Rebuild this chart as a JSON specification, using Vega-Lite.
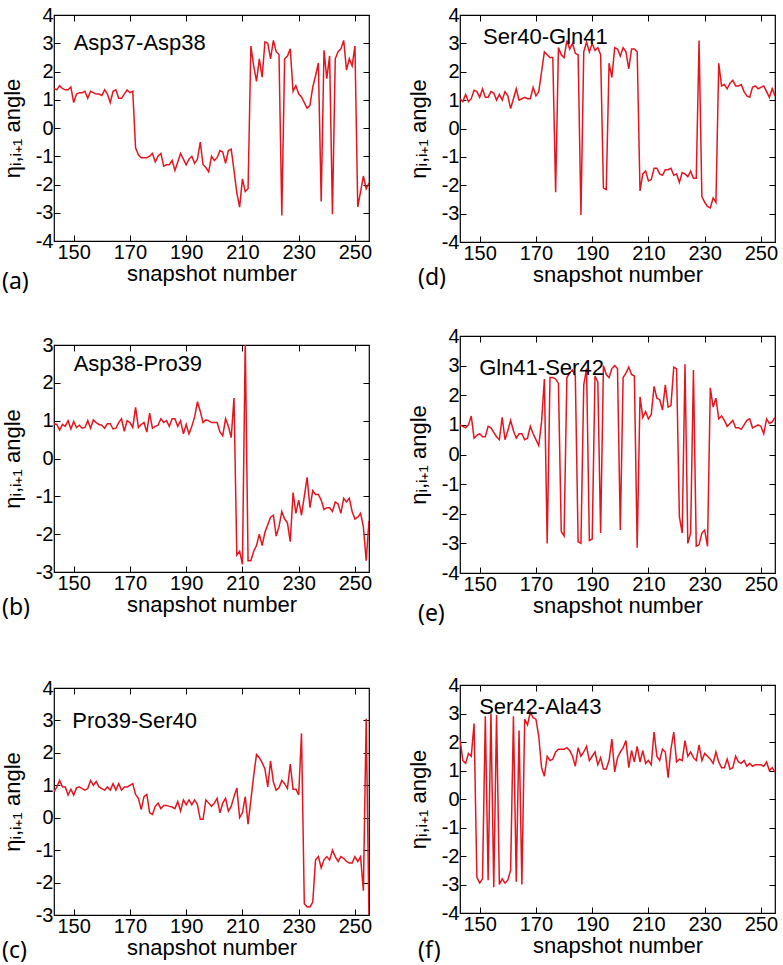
{
"$schema":"https://vega.github.io/schema/vega-lite/v6.json",
"padding":{"left":0,"top":4,"right":5,"bottom":2},
"config":{
 "locale":{"number":{"decimal":".","thousands":",","grouping":[3],"currency":["$",""],"minus":"-"}},
 "view":{"stroke":"black","strokeWidth":1.2},
 "line":{"color":"#e3161f","strokeWidth":1.5},
 "text":{"font":"Liberation Sans","fontSize":22,"align":"left","baseline":"middle","color":"black"},
 "title":{"orient":"bottom","anchor":"start","frame":"group","fontSize":23,"font":"Noto Sans","fontWeight":"normal","color":"black"},
 "axis":{"grid":false,"domain":false,"tickSize":-6,"tickColor":"black","labelColor":"black","labelFont":"Liberation Sans","labelFontSize":20,"titleFont":"Liberation Sans","titleFontSize":22,"titleFontWeight":"normal","titleColor":"black","labelPadding":7},
 "axisX":{"titlePadding":1},
 "axisY":{"titlePadding":11}
},
"datasets":{
"a":[{"s":143,"v":1.4},{"s":144,"v":1.35},{"s":145,"v":1.5},{"s":146,"v":1.4},{"s":147,"v":1.35},{"s":148,"v":1.35},{"s":149,"v":1.45},{"s":150,"v":0.9},{"s":151,"v":1.2},{"s":152,"v":1.25},{"s":153,"v":1.25},{"s":154,"v":1.3},{"s":155,"v":1.05},{"s":156,"v":1.3},{"s":157,"v":1.25},{"s":158,"v":1.2},{"s":159,"v":1.2},{"s":160,"v":1.15},{"s":161,"v":1.35},{"s":162,"v":1.2},{"s":163,"v":0.9},{"s":164,"v":1.3},{"s":165,"v":1.35},{"s":166,"v":1.05},{"s":167,"v":1.05},{"s":168,"v":1.2},{"s":169,"v":1.35},{"s":170,"v":1.25},{"s":171,"v":1.3},{"s":172,"v":-0.7},{"s":173,"v":-0.95},{"s":174,"v":-1.05},{"s":175,"v":-1.05},{"s":176,"v":-1.05},{"s":177,"v":-1.0},{"s":178,"v":-0.9},{"s":179,"v":-1.2},{"s":180,"v":-1.0},{"s":181,"v":-0.9},{"s":182,"v":-1.35},{"s":183,"v":-1.3},{"s":184,"v":-1.3},{"s":185,"v":-1.15},{"s":186,"v":-1.5},{"s":187,"v":-1.2},{"s":188,"v":-0.9},{"s":189,"v":-1.1},{"s":190,"v":-1.3},{"s":191,"v":-1.1},{"s":192,"v":-1.0},{"s":193,"v":-1.25},{"s":194,"v":-1.1},{"s":195,"v":-0.5},{"s":196,"v":-1.3},{"s":197,"v":-1.4},{"s":198,"v":-1.55},{"s":199,"v":-1.0},{"s":200,"v":-1.15},{"s":201,"v":-1.05},{"s":202,"v":-0.8},{"s":203,"v":-0.85},{"s":204,"v":-1.25},{"s":205,"v":-0.8},{"s":206,"v":-0.75},{"s":207,"v":-1.5},{"s":208,"v":-2.3},{"s":209,"v":-2.8},{"s":210,"v":-1.8},{"s":211,"v":-2.25},{"s":212,"v":-2.15},{"s":213,"v":2.9},{"s":214,"v":2.2},{"s":215,"v":1.65},{"s":216,"v":2.45},{"s":217,"v":1.8},{"s":218,"v":3.05},{"s":219,"v":3.0},{"s":220,"v":2.45},{"s":221,"v":3.1},{"s":222,"v":2.7},{"s":223,"v":2.6},{"s":224,"v":-3.1},{"s":225,"v":2.45},{"s":226,"v":2.55},{"s":227,"v":2.8},{"s":228,"v":1.3},{"s":229,"v":1.5},{"s":230,"v":1.2},{"s":231,"v":1.1},{"s":232,"v":0.9},{"s":233,"v":0.7},{"s":234,"v":0.8},{"s":235,"v":1.45},{"s":236,"v":1.85},{"s":237,"v":2.3},{"s":238,"v":-2.6},{"s":239,"v":2.75},{"s":240,"v":1.75},{"s":241,"v":2.55},{"s":242,"v":-3.05},{"s":243,"v":2.45},{"s":244,"v":2.7},{"s":245,"v":2.8},{"s":246,"v":3.1},{"s":247,"v":2.05},{"s":248,"v":2.45},{"s":249,"v":2.2},{"s":250,"v":2.9},{"s":251,"v":-2.8},{"s":252,"v":-2.25},{"s":253,"v":-1.7},{"s":254,"v":-2.15},{"s":255,"v":-1.95}],
"b":[{"s":143,"v":0.92},{"s":144,"v":0.9},{"s":145,"v":0.75},{"s":146,"v":0.9},{"s":147,"v":0.85},{"s":148,"v":1.0},{"s":149,"v":0.78},{"s":150,"v":0.98},{"s":151,"v":0.82},{"s":152,"v":0.88},{"s":153,"v":0.8},{"s":154,"v":0.82},{"s":155,"v":1.0},{"s":156,"v":0.8},{"s":157,"v":1.02},{"s":158,"v":0.95},{"s":159,"v":0.9},{"s":160,"v":0.88},{"s":161,"v":0.8},{"s":162,"v":0.92},{"s":163,"v":0.92},{"s":164,"v":0.78},{"s":165,"v":0.8},{"s":166,"v":0.95},{"s":167,"v":1.05},{"s":168,"v":0.72},{"s":169,"v":1.0},{"s":170,"v":0.95},{"s":171,"v":0.82},{"s":172,"v":1.35},{"s":173,"v":0.82},{"s":174,"v":0.9},{"s":175,"v":0.95},{"s":176,"v":0.7},{"s":177,"v":1.2},{"s":178,"v":0.8},{"s":179,"v":0.85},{"s":180,"v":0.88},{"s":181,"v":1.05},{"s":182,"v":0.95},{"s":183,"v":1.0},{"s":184,"v":0.85},{"s":185,"v":1.05},{"s":186,"v":1.05},{"s":187,"v":0.85},{"s":188,"v":1.0},{"s":189,"v":0.65},{"s":190,"v":0.9},{"s":191,"v":0.65},{"s":192,"v":0.85},{"s":193,"v":1.1},{"s":194,"v":1.5},{"s":195,"v":1.25},{"s":196,"v":0.95},{"s":197,"v":1.02},{"s":198,"v":1.0},{"s":199,"v":0.95},{"s":200,"v":0.95},{"s":201,"v":0.95},{"s":202,"v":0.7},{"s":203,"v":0.6},{"s":204,"v":1.05},{"s":205,"v":0.85},{"s":206,"v":0.55},{"s":207,"v":1.6},{"s":208,"v":-2.55},{"s":209,"v":-2.45},{"s":210,"v":-2.8},{"s":211,"v":3.1},{"s":212,"v":-2.7},{"s":213,"v":-2.7},{"s":214,"v":-2.45},{"s":215,"v":-2.3},{"s":216,"v":-2.0},{"s":217,"v":-2.3},{"s":218,"v":-1.95},{"s":219,"v":-1.75},{"s":220,"v":-1.55},{"s":221,"v":-1.5},{"s":222,"v":-2.05},{"s":223,"v":-1.8},{"s":224,"v":-1.4},{"s":225,"v":-1.6},{"s":226,"v":-1.7},{"s":227,"v":-2.2},{"s":228,"v":-0.9},{"s":229,"v":-1.45},{"s":230,"v":-1.1},{"s":231,"v":-1.5},{"s":232,"v":-1.0},{"s":233,"v":-0.5},{"s":234,"v":-1.3},{"s":235,"v":-0.85},{"s":236,"v":-0.95},{"s":237,"v":-0.95},{"s":238,"v":-1.1},{"s":239,"v":-1.35},{"s":240,"v":-1.3},{"s":241,"v":-1.3},{"s":242,"v":-1.4},{"s":243,"v":-1.15},{"s":244,"v":-1.2},{"s":245,"v":-1.45},{"s":246,"v":-1.05},{"s":247,"v":-1.15},{"s":248,"v":-1.05},{"s":249,"v":-1.4},{"s":250,"v":-1.6},{"s":251,"v":-1.55},{"s":252,"v":-1.45},{"s":253,"v":-1.8},{"s":254,"v":-2.7},{"s":255,"v":-1.65}],
"c":[{"s":143,"v":0.8},{"s":144,"v":0.95},{"s":145,"v":1.15},{"s":146,"v":0.95},{"s":147,"v":0.95},{"s":148,"v":0.7},{"s":149,"v":0.88},{"s":150,"v":0.7},{"s":151,"v":0.92},{"s":152,"v":0.95},{"s":153,"v":0.9},{"s":154,"v":0.85},{"s":155,"v":0.9},{"s":156,"v":1.15},{"s":157,"v":1.0},{"s":158,"v":1.12},{"s":159,"v":0.95},{"s":160,"v":0.9},{"s":161,"v":0.85},{"s":162,"v":0.95},{"s":163,"v":0.85},{"s":164,"v":1.05},{"s":165,"v":0.85},{"s":166,"v":1.05},{"s":167,"v":0.85},{"s":168,"v":0.95},{"s":169,"v":0.95},{"s":170,"v":1.0},{"s":171,"v":1.05},{"s":172,"v":0.72},{"s":173,"v":0.6},{"s":174,"v":0.25},{"s":175,"v":0.65},{"s":176,"v":0.72},{"s":177,"v":0.15},{"s":178,"v":0.1},{"s":179,"v":0.35},{"s":180,"v":0.45},{"s":181,"v":0.28},{"s":182,"v":0.38},{"s":183,"v":0.38},{"s":184,"v":0.35},{"s":185,"v":0.33},{"s":186,"v":0.28},{"s":187,"v":0.5},{"s":188,"v":0.2},{"s":189,"v":0.55},{"s":190,"v":0.4},{"s":191,"v":0.55},{"s":192,"v":0.4},{"s":193,"v":0.55},{"s":194,"v":0.4},{"s":195,"v":-0.05},{"s":196,"v":-0.05},{"s":197,"v":0.55},{"s":198,"v":0.45},{"s":199,"v":0.35},{"s":200,"v":0.45},{"s":201,"v":0.6},{"s":202,"v":0.15},{"s":203,"v":0.45},{"s":204,"v":0.6},{"s":205,"v":0.2},{"s":206,"v":0.35},{"s":207,"v":0.65},{"s":208,"v":0.92},{"s":209,"v":0.0},{"s":210,"v":0.15},{"s":211,"v":0.65},{"s":212,"v":-0.2},{"s":213,"v":0.55},{"s":214,"v":1.3},{"s":215,"v":1.95},{"s":216,"v":1.85},{"s":217,"v":1.7},{"s":218,"v":1.5},{"s":219,"v":0.95},{"s":220,"v":1.75},{"s":221,"v":1.1},{"s":222,"v":0.85},{"s":223,"v":0.92},{"s":224,"v":1.15},{"s":225,"v":1.05},{"s":226,"v":0.9},{"s":227,"v":1.65},{"s":228,"v":0.88},{"s":229,"v":0.88},{"s":230,"v":0.7},{"s":231,"v":2.6},{"s":232,"v":-2.65},{"s":233,"v":-2.75},{"s":234,"v":-2.75},{"s":235,"v":-2.6},{"s":236,"v":-1.3},{"s":237,"v":-1.2},{"s":238,"v":-1.55},{"s":239,"v":-1.3},{"s":240,"v":-1.2},{"s":241,"v":-1.3},{"s":242,"v":-1.0},{"s":243,"v":-1.2},{"s":244,"v":-1.35},{"s":245,"v":-1.2},{"s":246,"v":-1.25},{"s":247,"v":-1.35},{"s":248,"v":-1.4},{"s":249,"v":-1.4},{"s":250,"v":-1.2},{"s":251,"v":-1.35},{"s":252,"v":-1.2},{"s":253,"v":-2.25},{"s":254,"v":3.05},{"s":255,"v":-3.1}],
"d":[{"s":143,"v":1.05},{"s":144,"v":0.95},{"s":145,"v":1.2},{"s":146,"v":0.95},{"s":147,"v":1.05},{"s":148,"v":1.35},{"s":149,"v":1.3},{"s":150,"v":1.1},{"s":151,"v":1.4},{"s":152,"v":1.1},{"s":153,"v":1.1},{"s":154,"v":1.3},{"s":155,"v":1.25},{"s":156,"v":1.0},{"s":157,"v":1.2},{"s":158,"v":1.0},{"s":159,"v":1.3},{"s":160,"v":1.15},{"s":161,"v":0.7},{"s":162,"v":1.05},{"s":163,"v":1.4},{"s":164,"v":1.0},{"s":165,"v":1.05},{"s":166,"v":1.1},{"s":167,"v":1.05},{"s":168,"v":1.05},{"s":169,"v":1.45},{"s":170,"v":1.15},{"s":171,"v":1.3},{"s":172,"v":2.0},{"s":173,"v":2.7},{"s":174,"v":2.6},{"s":175,"v":2.5},{"s":176,"v":2.5},{"s":177,"v":-2.25},{"s":178,"v":2.85},{"s":179,"v":2.6},{"s":180,"v":2.5},{"s":181,"v":3.1},{"s":182,"v":2.8},{"s":183,"v":3.0},{"s":184,"v":2.65},{"s":185,"v":2.6},{"s":186,"v":-3.05},{"s":187,"v":2.7},{"s":188,"v":3.05},{"s":189,"v":2.7},{"s":190,"v":3.0},{"s":191,"v":2.75},{"s":192,"v":2.85},{"s":193,"v":2.6},{"s":194,"v":-2.1},{"s":195,"v":-2.15},{"s":196,"v":2.3},{"s":197,"v":1.8},{"s":198,"v":2.85},{"s":199,"v":2.8},{"s":200,"v":2.55},{"s":201,"v":2.85},{"s":202,"v":2.7},{"s":203,"v":2.1},{"s":204,"v":2.8},{"s":205,"v":2.8},{"s":206,"v":2.7},{"s":207,"v":-2.2},{"s":208,"v":-1.6},{"s":209,"v":-1.5},{"s":210,"v":-1.85},{"s":211,"v":-1.8},{"s":212,"v":-1.4},{"s":213,"v":-1.4},{"s":214,"v":-1.6},{"s":215,"v":-1.65},{"s":216,"v":-1.45},{"s":217,"v":-1.45},{"s":218,"v":-1.4},{"s":219,"v":-1.65},{"s":220,"v":-1.6},{"s":221,"v":-1.9},{"s":222,"v":-1.55},{"s":223,"v":-1.6},{"s":224,"v":-1.7},{"s":225,"v":-1.5},{"s":226,"v":-1.75},{"s":227,"v":-1.75},{"s":228,"v":3.1},{"s":229,"v":-2.4},{"s":230,"v":-2.6},{"s":231,"v":-2.75},{"s":232,"v":-2.8},{"s":233,"v":-2.45},{"s":234,"v":-2.6},{"s":235,"v":2.3},{"s":236,"v":1.5},{"s":237,"v":1.55},{"s":238,"v":1.4},{"s":239,"v":1.6},{"s":240,"v":1.7},{"s":241,"v":1.5},{"s":242,"v":1.5},{"s":243,"v":1.55},{"s":244,"v":1.3},{"s":245,"v":1.15},{"s":246,"v":1.1},{"s":247,"v":1.45},{"s":248,"v":1.5},{"s":249,"v":1.4},{"s":250,"v":1.45},{"s":251,"v":1.5},{"s":252,"v":1.3},{"s":253,"v":1.1},{"s":254,"v":1.4},{"s":255,"v":1.15}],
"e":[{"s":143,"v":1.0},{"s":144,"v":0.95},{"s":145,"v":0.9},{"s":146,"v":1.0},{"s":147,"v":1.3},{"s":148,"v":0.55},{"s":149,"v":0.65},{"s":150,"v":0.7},{"s":151,"v":0.6},{"s":152,"v":0.6},{"s":153,"v":0.95},{"s":154,"v":0.9},{"s":155,"v":0.75},{"s":156,"v":0.6},{"s":157,"v":0.5},{"s":158,"v":1.25},{"s":159,"v":0.5},{"s":160,"v":0.8},{"s":161,"v":1.15},{"s":162,"v":0.8},{"s":163,"v":0.55},{"s":164,"v":0.7},{"s":165,"v":0.7},{"s":166,"v":0.5},{"s":167,"v":0.55},{"s":168,"v":0.95},{"s":169,"v":0.7},{"s":170,"v":0.5},{"s":171,"v":0.3},{"s":172,"v":1.1},{"s":173,"v":2.55},{"s":174,"v":-3.0},{"s":175,"v":2.6},{"s":176,"v":2.6},{"s":177,"v":2.55},{"s":178,"v":2.4},{"s":179,"v":-2.6},{"s":180,"v":-2.75},{"s":181,"v":2.6},{"s":182,"v":2.75},{"s":183,"v":2.85},{"s":184,"v":2.65},{"s":185,"v":-2.95},{"s":186,"v":-3.0},{"s":187,"v":2.35},{"s":188,"v":2.9},{"s":189,"v":-2.9},{"s":190,"v":-2.85},{"s":191,"v":2.65},{"s":192,"v":2.45},{"s":193,"v":-2.65},{"s":194,"v":3.0},{"s":195,"v":2.7},{"s":196,"v":2.6},{"s":197,"v":2.9},{"s":198,"v":3.0},{"s":199,"v":2.9},{"s":200,"v":-2.55},{"s":201,"v":2.6},{"s":202,"v":2.75},{"s":203,"v":2.95},{"s":204,"v":2.7},{"s":205,"v":2.65},{"s":206,"v":-3.15},{"s":207,"v":1.95},{"s":208,"v":1.25},{"s":209,"v":1.45},{"s":210,"v":1.2},{"s":211,"v":1.35},{"s":212,"v":2.3},{"s":213,"v":1.9},{"s":214,"v":1.85},{"s":215,"v":1.5},{"s":216,"v":2.35},{"s":217,"v":1.6},{"s":218,"v":1.65},{"s":219,"v":2.95},{"s":220,"v":2.9},{"s":221,"v":-2.1},{"s":222,"v":-2.65},{"s":223,"v":3.05},{"s":224,"v":-3.0},{"s":225,"v":-2.65},{"s":226,"v":2.85},{"s":227,"v":-3.1},{"s":228,"v":-3.05},{"s":229,"v":-2.65},{"s":230,"v":-2.55},{"s":231,"v":-3.1},{"s":232,"v":2.25},{"s":233,"v":1.6},{"s":234,"v":1.9},{"s":235,"v":1.2},{"s":236,"v":1.3},{"s":237,"v":1.15},{"s":238,"v":0.95},{"s":239,"v":1.05},{"s":240,"v":1.15},{"s":241,"v":0.9},{"s":242,"v":0.9},{"s":243,"v":0.85},{"s":244,"v":1.0},{"s":245,"v":1.15},{"s":246,"v":1.2},{"s":247,"v":0.9},{"s":248,"v":0.95},{"s":249,"v":1.0},{"s":250,"v":0.95},{"s":251,"v":0.7},{"s":252,"v":1.2},{"s":253,"v":1.05},{"s":254,"v":1.1},{"s":255,"v":1.25}],
"f":[{"s":143,"v":2.1},{"s":144,"v":1.35},{"s":145,"v":1.25},{"s":146,"v":1.6},{"s":147,"v":1.5},{"s":148,"v":2.65},{"s":149,"v":-2.75},{"s":150,"v":-2.95},{"s":151,"v":-2.8},{"s":152,"v":2.9},{"s":153,"v":-2.85},{"s":154,"v":3.0},{"s":155,"v":-3.1},{"s":156,"v":2.95},{"s":157,"v":-3.0},{"s":158,"v":-2.8},{"s":159,"v":-2.95},{"s":160,"v":-2.85},{"s":161,"v":-2.5},{"s":162,"v":2.9},{"s":163,"v":-2.9},{"s":164,"v":2.4},{"s":165,"v":-3.0},{"s":166,"v":2.8},{"s":167,"v":2.6},{"s":168,"v":3.05},{"s":169,"v":2.85},{"s":170,"v":2.8},{"s":171,"v":2.2},{"s":172,"v":1.1},{"s":173,"v":0.8},{"s":174,"v":1.5},{"s":175,"v":1.35},{"s":176,"v":1.4},{"s":177,"v":1.65},{"s":178,"v":1.75},{"s":179,"v":1.75},{"s":180,"v":1.75},{"s":181,"v":1.8},{"s":182,"v":1.7},{"s":183,"v":1.5},{"s":184,"v":1.15},{"s":185,"v":1.8},{"s":186,"v":1.5},{"s":187,"v":1.65},{"s":188,"v":1.85},{"s":189,"v":1.35},{"s":190,"v":1.5},{"s":191,"v":1.65},{"s":192,"v":1.2},{"s":193,"v":1.45},{"s":194,"v":1.05},{"s":195,"v":1.05},{"s":196,"v":1.35},{"s":197,"v":2.1},{"s":198,"v":0.95},{"s":199,"v":1.45},{"s":200,"v":1.65},{"s":201,"v":1.8},{"s":202,"v":2.05},{"s":203,"v":1.1},{"s":204,"v":1.7},{"s":205,"v":1.3},{"s":206,"v":1.85},{"s":207,"v":1.3},{"s":208,"v":1.7},{"s":209,"v":1.25},{"s":210,"v":1.35},{"s":211,"v":1.2},{"s":212,"v":2.35},{"s":213,"v":1.5},{"s":214,"v":1.35},{"s":215,"v":1.75},{"s":216,"v":1.65},{"s":217,"v":0.75},{"s":218,"v":1.75},{"s":219,"v":2.35},{"s":220,"v":1.3},{"s":221,"v":1.4},{"s":222,"v":1.35},{"s":223,"v":2.05},{"s":224,"v":1.5},{"s":225,"v":1.65},{"s":226,"v":1.45},{"s":227,"v":1.35},{"s":228,"v":1.9},{"s":229,"v":1.35},{"s":230,"v":1.6},{"s":231,"v":1.5},{"s":232,"v":1.4},{"s":233,"v":1.25},{"s":234,"v":1.65},{"s":235,"v":1.3},{"s":236,"v":1.1},{"s":237,"v":1.1},{"s":238,"v":1.4},{"s":239,"v":1.05},{"s":240,"v":1.1},{"s":241,"v":1.5},{"s":242,"v":1.3},{"s":243,"v":1.25},{"s":244,"v":1.35},{"s":245,"v":1.15},{"s":246,"v":1.25},{"s":247,"v":1.15},{"s":248,"v":1.2},{"s":249,"v":1.2},{"s":250,"v":1.2},{"s":251,"v":1.15},{"s":252,"v":1.3},{"s":253,"v":1.0},{"s":254,"v":1.1},{"s":255,"v":0.95}]
},
"hconcat":[
 {"vconcat":[
  {"width":315,"height":226,"title":{"text":"(a)","dx":-52,"offset":-13},
   "layer":[
    {"data":{"name":"a"},"mark":{"type":"line","clip":true},
     "encoding":{"x":{"field":"s","type":"quantitative","scale":{"domain":[143,255],"nice":false,"zero":false},"axis":{"orient":"bottom","values":[150,170,190,210,230,250],"title":"snapshot number"}},
      "y":{"field":"v","type":"quantitative","scale":{"domain":[-4,4],"nice":false},"axis":{"orient":"left","values":[-4,-3,-2,-1,0,1,2,3,4],"title":"ηᵢ,ᵢ₊₁  angle"}}}},
    {"data":{"values":[{"label":"Asp37-Asp38"}]},"mark":{"type":"text"},
     "encoding":{"x":{"datum":150,"type":"quantitative","axis":{"orient":"top","values":[150,170,190,210,230,250],"labels":false,"title":null}},
      "y":{"datum":3.0,"type":"quantitative","axis":{"orient":"right","values":[-4,-3,-2,-1,0,1,2,3,4],"labels":false,"title":null}},
      "text":{"field":"label"}}}
   ],
   "resolve":{"axis":{"x":"independent","y":"independent"}}},
  {"vconcat":[
   {"width":315,"height":227,"title":{"text":"(b)","dx":-52,"offset":-18},
    "layer":[
     {"data":{"name":"b"},"mark":{"type":"line","clip":true},
      "encoding":{"x":{"field":"s","type":"quantitative","scale":{"domain":[143,255],"nice":false,"zero":false},"axis":{"orient":"bottom","values":[150,170,190,210,230,250],"title":"snapshot number"}},
       "y":{"field":"v","type":"quantitative","scale":{"domain":[-3,3],"nice":false},"axis":{"orient":"left","values":[-3,-2,-1,0,1,2,3],"title":"ηᵢ,ᵢ₊₁  angle"}}}},
     {"data":{"values":[{"label":"Asp38-Pro39"}]},"mark":{"type":"text"},
      "encoding":{"x":{"datum":150,"type":"quantitative","axis":{"orient":"top","values":[150,170,190,210,230,250],"labels":false,"title":null}},
       "y":{"datum":2.51,"type":"quantitative","axis":{"orient":"right","values":[-3,-2,-1,0,1,2,3],"labels":false,"title":null}},
       "text":{"field":"label"}}}
    ],
    "resolve":{"axis":{"x":"independent","y":"independent"}}},
   {"width":315,"height":227,"title":{"text":"(c)","dx":-52,"offset":-18},
    "layer":[
     {"data":{"name":"c"},"mark":{"type":"line","clip":true},
      "encoding":{"x":{"field":"s","type":"quantitative","scale":{"domain":[143,255],"nice":false,"zero":false},"axis":{"orient":"bottom","values":[150,170,190,210,230,250],"title":"snapshot number"}},
       "y":{"field":"v","type":"quantitative","scale":{"domain":[-3,4],"nice":false},"axis":{"orient":"left","values":[-3,-2,-1,0,1,2,3,4],"title":"ηᵢ,ᵢ₊₁  angle"}}}},
     {"data":{"values":[{"label":"Pro39-Ser40"}]},"mark":{"type":"text"},
      "encoding":{"x":{"datum":149.5,"type":"quantitative","axis":{"orient":"top","values":[150,170,190,210,230,250],"labels":false,"title":null}},
       "y":{"datum":2.98,"type":"quantitative","axis":{"orient":"right","values":[-3,-2,-1,0,1,2,3,4],"labels":false,"title":null}},
       "text":{"field":"label"}}}
    ],
    "resolve":{"axis":{"x":"independent","y":"independent"}}}
  ],"spacing":116,"bounds":"flush"}
 ],"spacing":104,"bounds":"flush"},
 {"vconcat":[
  {"width":315,"height":227,"title":{"text":"(d)","dx":-42,"offset":-18},
   "layer":[
    {"data":{"name":"d"},"mark":{"type":"line","clip":true},
     "encoding":{"x":{"field":"s","type":"quantitative","scale":{"domain":[143,255],"nice":false,"zero":false},"axis":{"orient":"bottom","values":[150,170,190,210,230,250],"title":"snapshot number"}},
      "y":{"field":"v","type":"quantitative","scale":{"domain":[-4,4],"nice":false},"axis":{"orient":"left","values":[-4,-3,-2,-1,0,1,2,3,4],"title":"ηᵢ,ᵢ₊₁  angle"}}}},
    {"data":{"values":[{"label":"Ser40-Gln41"}]},"mark":{"type":"text"},
     "encoding":{"x":{"datum":151.2,"type":"quantitative","axis":{"orient":"top","values":[150,170,190,210,230,250],"labels":false,"title":null}},
      "y":{"datum":3.24,"type":"quantitative","axis":{"orient":"right","values":[-4,-3,-2,-1,0,1,2,3,4],"labels":false,"title":null}},
      "text":{"field":"label"}}}
   ],
   "resolve":{"axis":{"x":"independent","y":"independent"}}},
  {"vconcat":[
   {"width":315,"height":237,"title":{"text":"(e)","dx":-42,"offset":-13},
    "layer":[
     {"data":{"name":"e"},"mark":{"type":"line","clip":true},
      "encoding":{"x":{"field":"s","type":"quantitative","scale":{"domain":[143,255],"nice":false,"zero":false},"axis":{"orient":"bottom","values":[150,170,190,210,230,250],"title":"snapshot number"}},
       "y":{"field":"v","type":"quantitative","scale":{"domain":[-4,4],"nice":false},"axis":{"orient":"left","values":[-4,-3,-2,-1,0,1,2,3,4],"title":"ηᵢ,ᵢ₊₁  angle"}}}},
     {"data":{"values":[{"label":"Gln41-Ser42"}]},"mark":{"type":"text"},
      "encoding":{"x":{"datum":149.8,"type":"quantitative","axis":{"orient":"top","values":[150,170,190,210,230,250],"labels":false,"title":null}},
       "y":{"datum":2.93,"type":"quantitative","axis":{"orient":"right","values":[-4,-3,-2,-1,0,1,2,3,4],"labels":false,"title":null}},
       "text":{"field":"label"}}}
    ],
    "resolve":{"axis":{"x":"independent","y":"independent"}}},
   {"width":315,"height":228,"title":{"text":"(f)","dx":-42,"offset":-16},
    "layer":[
     {"data":{"name":"f"},"mark":{"type":"line","clip":true},
      "encoding":{"x":{"field":"s","type":"quantitative","scale":{"domain":[143,255],"nice":false,"zero":false},"axis":{"orient":"bottom","values":[150,170,190,210,230,250],"title":"snapshot number"}},
       "y":{"field":"v","type":"quantitative","scale":{"domain":[-4,4],"nice":false},"axis":{"orient":"left","values":[-4,-3,-2,-1,0,1,2,3,4],"title":"ηᵢ,ᵢ₊₁  angle"}}}},
     {"data":{"values":[{"label":"Ser42-Ala43"}]},"mark":{"type":"text"},
      "encoding":{"x":{"datum":149.8,"type":"quantitative","axis":{"orient":"top","values":[150,170,190,210,230,250],"labels":false,"title":null}},
       "y":{"datum":3.24,"type":"quantitative","axis":{"orient":"right","values":[-4,-3,-2,-1,0,1,2,3,4],"labels":false,"title":null}},
       "text":{"field":"label"}}}
    ],
    "resolve":{"axis":{"x":"independent","y":"independent"}}}
  ],"spacing":112,"bounds":"flush"}
 ],"spacing":94,"bounds":"flush"}
],
"spacing":406,
"bounds":"flush"
}
